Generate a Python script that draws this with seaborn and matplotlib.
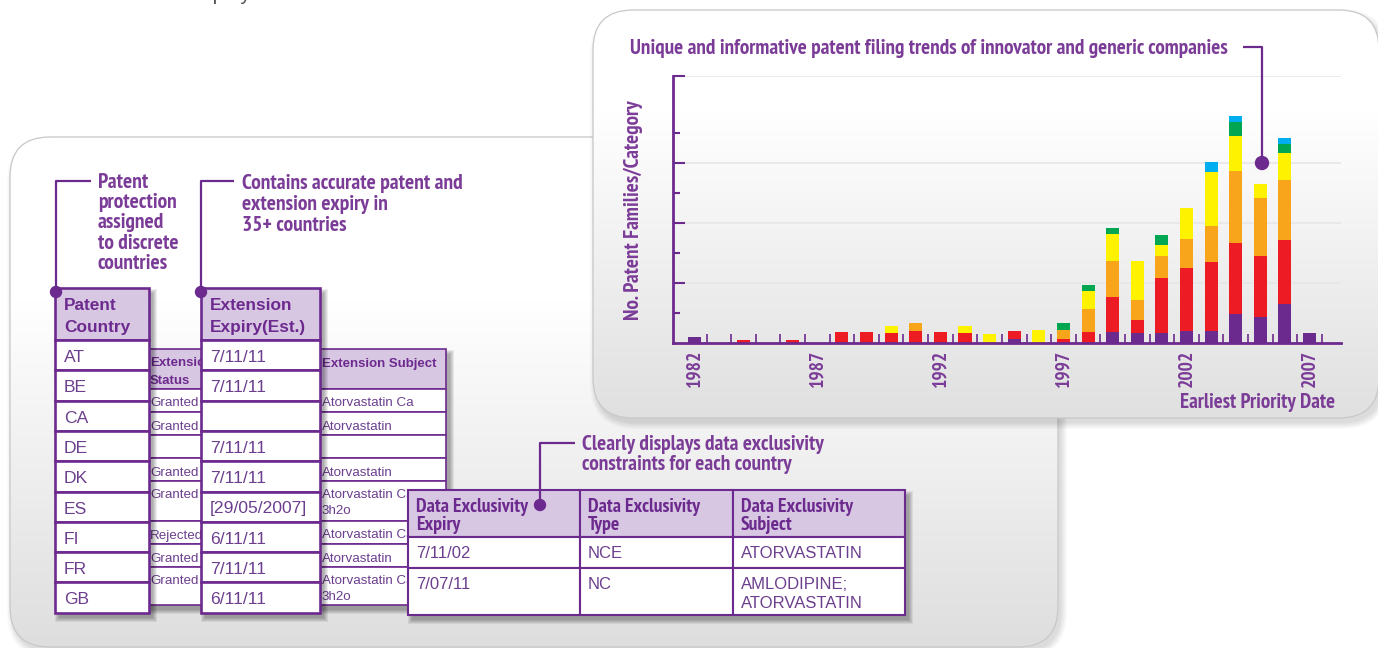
#!/usr/bin/env python3
# -*- coding: utf-8 -*-
import numpy as np
import pandas as pd
import seaborn as sns

import matplotlib
matplotlib.use('Agg')
import matplotlib.pyplot as plt
from matplotlib.patches import FancyBboxPatch, Rectangle, Circle
from matplotlib.colors import LinearSegmentedColormap

# =============================================================================
# Data
# =============================================================================
years = list(range(1982, 2008))
purple_vals = [2.1, 0, 0, 0, 0, 0, 0, 0, 0, 0, 0, 0, 0, 1.4, 0, 0, 0, 3.8, 3.4, 3.4, 4.1, 4.1, 9.8, 8.8, 13.1, 3.4]
red_vals = [0, 0, 1.1, 0, 1.1, 0, 3.8, 3.8, 3.4, 4.1, 3.8, 3.4, 0, 2.7, 0, 1.4, 3.8, 11.7, 4.3, 18.3, 21.0, 23.0, 23.7, 20.3, 21.3, 0]
orange_vals = [0, 0, 0, 0, 0, 0, 0, 0, 0, 2.7, 0, 0, 0, 0, 0, 3.0, 7.7, 11.7, 6.7, 7.3, 9.7, 12.0, 23.7, 19.3, 20.0, 0]
yellow_vals = [0, 0, 0, 0, 0, 0, 0, 0, 2.3, 0, 0, 2.3, 3.1, 0, 4.4, 0, 5.7, 9.3, 13.0, 3.7, 10.3, 18.0, 11.7, 4.7, 9.0, 0]
green_vals = [0, 0, 0, 0, 0, 0, 0, 0, 0, 0, 0, 0, 0, 0, 0, 2.3, 2.3, 1.7, 0, 3.3, 0, 0, 4.7, 0, 3.0, 0]
blue_vals = [0, 0, 0, 0, 0, 0, 0, 0, 0, 0, 0, 0, 0, 0, 0, 0, 0, 0, 0, 0, 0, 3.3, 2.0, 0, 2.0, 0]
label_years = [1982, 1987, 1992, 1997, 2002, 2007]

countries = ['AT', 'BE', 'CA', 'DE', 'DK', 'ES', 'FI', 'FR', 'GB']
ext_expiry = ['7/11/11', '7/11/11', '', '7/11/11', '7/11/11', '[29/05/2007]', '6/11/11', '7/11/11', '6/11/11']
ext_status = ['Granted', 'Granted', '', 'Granted', 'Granted', 'Rejected', 'Granted', 'Granted']
ext_subject = ['Atorvastatin Ca', 'Atorvastatin', '', 'Atorvastatin', 'Atorvastatin Ca\n3h2o',
               'Atorvastatin Ca', 'Atorvastatin', 'Atorvastatin Ca\n3h2o']
de_headers = ['Data Exclusivity\nExpiry', 'Data Exclusivity\nType', 'Data Exclusivity\nSubject']
de_expiry = ['7/11/02', '7/07/11']
de_type = ['NCE', 'NC']
de_subject = ['ATORVASTATIN', 'AMLODIPINE;\nATORVASTATIN']

title = 'Unique and informative patent filing trends of innovator and generic companies'
note_country = 'Patent\nprotection\nassigned\nto discrete\ncountries'
note_expiry = 'Contains accurate patent and\nextension expiry in\n35+ countries'
note_de = 'Clearly displays data exclusivity\nconstraints for each country'

# =============================================================================
# Style
# =============================================================================
sns.set_theme(style='white')
plt.rcParams['font.family'] = ['Liberation Sans', 'DejaVu Sans']
NARROW = ['PT Sans Narrow', 'Fira Sans Condensed', 'Roboto Condensed',
          'Liberation Sans Narrow', 'Liberation Sans']

TXT = '#7b3c98'
LINE = '#6d2a8e'
HEAD = '#d7c7e3'
ROWTXT = '#6c3e8e'
bar_colors = {'purple': '#6a2a8e', 'red': '#ed1c24', 'orange': '#f8a51b',
              'yellow': '#fff200', 'green': '#00a651', 'blue': '#00aeef'}

fig = plt.figure(figsize=(13.78, 6.48), dpi=100)
bg = fig.add_axes([0, 0, 1, 1], zorder=0)
W, H = 1378, 648


def panel(ax, x, y, w, h, z, fade_from, grey):
    for i in range(7):
        ax.add_patch(FancyBboxPatch((x + 3 - i, y + 5 - i), w + 2 * i, h + 2 * i,
                                    boxstyle='round,pad=0,rounding_size=%d' % (40 + i),
                                    fc='black', ec='none', alpha=0.018, zorder=z))
    box = FancyBboxPatch((x, y), w, h, boxstyle='round,pad=0,rounding_size=40',
                         fc='white', ec='none', zorder=z + 0.1)
    ax.add_patch(box)
    yy = np.linspace(y, y + h, 300)
    t = np.clip((yy - fade_from) / (y + h - fade_from), 0, 1)
    cmap = LinearSegmentedColormap.from_list('g', ['#ffffff', grey])
    im = ax.imshow(t[:, None], extent=(x, x + w, y + h, y), cmap=cmap, vmin=0, vmax=1,
                   aspect='auto', interpolation='bilinear', zorder=z + 0.2)
    im.set_clip_path(box)
    ax.add_patch(FancyBboxPatch((x, y), w, h, boxstyle='round,pad=0,rounding_size=40',
                                fc='none', ec='#c8c8c8', lw=0.9, zorder=z + 0.3))


def shadow(ax, x, y, w, h, z, dx=4, dy=5, n=5, alpha=0.07):
    for i in range(n):
        ax.add_patch(Rectangle((x + dx - i, y + dy - i), w + 2 * i, h + 2 * i,
                               fc='black', ec='none', alpha=alpha, zorder=z))


def cell(ax, x, y, w, h, z, fc='white', lw=1.8):
    ax.add_patch(Rectangle((x, y), w, h, fc=fc, ec=LINE, lw=lw, zorder=z))


def mtext(ax, x, y, s, dy, z, **kw):
    for i, line in enumerate(s.split('\n')):
        ax.text(x, y + i * dy, line, va='baseline', ha='left', zorder=z, **kw)


# =============================================================================
# Left panel with tables
# =============================================================================
panel(bg, 10, 137, 1048, 510, 1, 300, '#dedede')

# clipped text line above the panels
bg.text(186, -0.5, 'display', fontsize=15, color='#555555', va='baseline', zorder=2)

# extension status / subject table (behind)
a_x0, a_mid, a_x1 = 140, 300, 446
a_rows = [389, 412, 435, 458, 481, 521, 544, 567, 605]
shadow(bg, a_x0, 349, a_x1 - a_x0, a_rows[-1] - 349, 9)
cell(bg, a_x0, 349, a_mid - a_x0, 40, 10, fc=HEAD, lw=1.2)
cell(bg, a_mid, 349, a_x1 - a_mid, 40, 10, fc=HEAD, lw=1.2)
mtext(bg, 150, 366.5, 'Extension\nStatus', 17, 10.5, fontsize=9.5, fontweight='bold', color=LINE)
mtext(bg, 322, 366.5, 'Extension Subject', 17, 10.5, fontsize=9.5, fontweight='bold', color=LINE)
for i in range(len(ext_status)):
    top, bot = a_rows[i], a_rows[i + 1]
    cell(bg, a_x0, top, a_mid - a_x0, bot - top, 10, lw=1.2)
    cell(bg, a_mid, top, a_x1 - a_mid, bot - top, 10, lw=1.2)
    mtext(bg, 150, top + 17.5, ext_status[i], 16, 10.5, fontsize=9.6, color=ROWTXT)
    mtext(bg, 322, top + 17.5, ext_subject[i], 16, 10.5, fontsize=9.6, color=ROWTXT)

# patent country + extension expiry tables
row_h = 30.3
for x0, x1, head, vals in [(55, 149, 'Patent\nCountry', countries),
                           (201, 320, 'Extension\nExpiry(Est.)', ext_expiry)]:
    shadow(bg, x0, 288, x1 - x0, 340 + row_h * len(vals) - 288, 19)
    cell(bg, x0, 288, x1 - x0, 52, 20, fc=HEAD, lw=1.9)
    mtext(bg, x0 + 9, 310, head, 21.7, 20.5, fontsize=12.4, fontweight='bold', color=LINE)
    for i, v in enumerate(vals):
        top = 340 + row_h * i
        cell(bg, x0, top, x1 - x0, row_h, 20, lw=1.9)
        bg.text(x0 + 9, top + 22, v, fontsize=12.6, color=ROWTXT, va='baseline', zorder=20.5)

# data exclusivity table
de_cols = [408, 580, 733, 905]
de_rows = [490, 537, 568, 615]
shadow(bg, 408, 490, 905 - 408, 615 - 490, 29)
for j in range(3):
    cell(bg, de_cols[j], de_rows[0], de_cols[j + 1] - de_cols[j], de_rows[1] - de_rows[0], 30, fc=HEAD, lw=1.5)
    mtext(bg, de_cols[j] + 8, 511.5, de_headers[j], 18, 30.5, fontsize=14.2,
          fontweight='bold', family=NARROW, color=LINE)
    col_vals = [de_expiry, de_type, de_subject][j]
    for i in range(2):
        top, bot = de_rows[i + 1], de_rows[i + 2]
        cell(bg, de_cols[j], top, de_cols[j + 1] - de_cols[j], bot - top, 30, lw=1.5)
        mtext(bg, de_cols[j] + 8, top + 21, col_vals[i], 19.5, 30.5, fontsize=12, color=ROWTXT)

# call-out notes on the left panel
for pts, dot in [([(91, 181), (56, 181), (56, 292)], (56, 292)),
                 ([(234, 181), (201, 181), (201, 292)], (201, 292)),
                 ([(575, 443), (540, 443), (540, 505)], (540, 505))]:
    xs, ys = zip(*pts)
    bg.plot(xs, ys, color=LINE, lw=1.6, zorder=40, solid_capstyle='butt')
    bg.add_patch(Circle(dot, 5.5, color=LINE, zorder=40))
mtext(bg, 98, 188, note_country, 20.2, 40, fontsize=15.5, fontweight='bold', family=NARROW, color=TXT)
mtext(bg, 242, 189, note_expiry, 21, 40, fontsize=15.5, fontweight='bold', family=NARROW, color=TXT)
mtext(bg, 582, 450, note_de, 20, 40, fontsize=15.4, fontweight='bold', family=NARROW, color=TXT)

# =============================================================================
# Right panel with stacked bar chart
# =============================================================================
panel(bg, 593, 10, 786, 408, 50, 110, '#e0e0e0')

bg.set_xlim(0, W)
bg.set_ylim(H, 0)
bg.axis('off')

series = {'purple': purple_vals, 'red': red_vals, 'orange': orange_vals,
          'yellow': yellow_vals, 'green': green_vals, 'blue': blue_vals}
df = pd.DataFrame([(yr, k, v[i]) for k, v in series.items() for i, yr in enumerate(years)],
                  columns=['year', 'category', 'families'])

ax = fig.add_axes([673 / W, 1 - 343 / H, 668 / W, (343 - 76) / H], zorder=1)
ax.patch.set_alpha(0)
sns.histplot(data=df, x='year', weights='families', hue='category',
             hue_order=['blue', 'green', 'yellow', 'orange', 'red', 'purple'],
             palette=bar_colors, multiple='stack', discrete=True, shrink=0.53,
             linewidth=0, edgecolor='none', alpha=1, legend=False, ax=ax)

ax.set_xlim(1981.135, 2008.28)
ax.set_ylim(0, 89)
ax.set_yticks([20, 40, 60, 89])
ax.set_yticks([10, 30, 50, 70], minor=True)
ax.set_xticks(label_years, labels=[str(y) for y in label_years])
ax.set_xticks(np.arange(years[0] + 0.5, years[-1] + 1, 1), minor=True)
ax.yaxis.grid(True, color='#e6e6e6', lw=1.2)
ax.xaxis.grid(False)
ax.set_axisbelow(True)
for s in ['top', 'right']:
    ax.spines[s].set_visible(False)
for s in ['left', 'bottom']:
    ax.spines[s].set_color(LINE)
    ax.spines[s].set_linewidth(2)
ax.tick_params(axis='y', which='major', direction='in', length=8.6, width=1.5, color=LINE,
               labelleft=False, left=True)
ax.tick_params(axis='y', which='minor', direction='in', length=5, width=1.5, color=LINE, left=True)
ax.tick_params(axis='x', which='major', length=0, pad=5, labelrotation=90, labelsize=14,
               labelcolor=TXT, bottom=True)
ax.tick_params(axis='x', which='minor', direction='in', length=6.5, width=1.2, color=LINE, bottom=True)
for lbl in ax.get_xticklabels():
    lbl.set_fontfamily(NARROW)
    lbl.set_fontweight('bold')

ax.set_ylabel('No. Patent Families/Category', fontsize=15.3, fontweight='bold',
              family=NARROW, color=TXT)
ax.yaxis.set_label_coords((633 - 673) / 668, (343 - 210) / 267)
ax.yaxis.label.set_va('center')
ax.set_xlabel('Earliest Priority Date', fontsize=15.1, fontweight='bold', family=NARROW, color=TXT)
ax.xaxis.set_label_coords((1335 - 673) / 668, -(403 - 343) / 267)
ax.xaxis.label.set_ha('right')
ax.xaxis.label.set_va('center')

# chart call-out
ov = fig.add_axes([0, 0, 1, 1], zorder=2)
ov.set_xlim(0, W)
ov.set_ylim(H, 0)
ov.axis('off')
ov.text(630, 53.5, title, fontsize=15.3, fontweight='bold', family=NARROW, color=TXT, va='baseline')
ov.plot([1243, 1262, 1262], [47, 47, 163], color=LINE, lw=1.6, solid_capstyle='butt')
ov.add_patch(Circle((1262, 163), 6.5, color=LINE))

fig.savefig('out.png', dpi=100)
